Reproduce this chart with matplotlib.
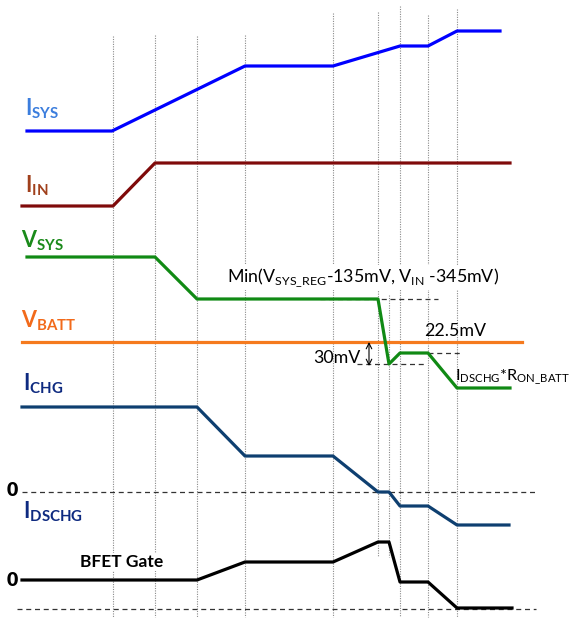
import matplotlib
matplotlib.use("Agg")
import matplotlib.pyplot as plt

plt.rcParams["font.family"] = ["Lato", "DejaVu Sans"]
plt.rcParams["mathtext.fontset"] = "custom"
plt.rcParams["mathtext.rm"] = "Lato"
plt.rcParams["mathtext.bf"] = "Lato:bold"

# Waveform corner points (x = time position, y = level, screen units)
isys_x = [27, 112, 245, 333, 400, 428, 457, 500]
isys_y = [131, 131, 66, 66, 46, 46, 31, 31]

iin_x = [22, 113, 155, 510]
iin_y = [206, 206, 163, 163]

vsys_x = [27, 155, 197, 378, 389, 400, 428, 457, 510]
vsys_y = [257, 257, 299, 299, 364, 353, 353, 388, 388]

vbatt_x = [22, 522]
vbatt_y = [342, 342]

ichg_x = [22, 197, 245, 333, 378, 389, 400, 428, 457, 509]
ichg_y = [407, 407, 456, 456, 492, 492, 506, 506, 525, 525]

bfet_x = [22, 197, 245, 333, 378, 389, 400, 428, 457, 512]
bfet_y = [580, 580, 562, 562, 542, 542, 582, 582, 608, 608]

# Event markers: x, top, bottom
events = [(113, 36, 617), (155, 35, 617), (197, 36, 617), (245, 35, 617),
          (333, 13, 617), (378, 12, 557), (389, 295, 557), (400, 6, 617),
          (428, 15, 617), (457, 9, 617)]

# Reference levels: y, x start, x end
ref_levels = [(492, 22, 536), (609, 17, 536), (299, 320, 438),
              (353, 428, 462), (364, 357, 425)]

fig = plt.figure(figsize=(5.73, 6.19), dpi=100)
ax = fig.add_axes([0, 0, 1, 1])
ax.set_xlim(0, 573)
ax.set_ylim(619, 0)
ax.axis("off")

for x, top, bot in events:
    ax.plot([x, x], [top, bot], color="#8a8a8a", lw=0.8, ls=(0, (1, 1.2)), zorder=1)

for y, x0, x1 in ref_levels:
    ax.plot([x0, x1], [y, y], color="#333333", lw=0.9, ls=(0, (4, 3)), zorder=1)

lw = 2.3
ax.plot(isys_x, isys_y, color="#0000ff", lw=lw, zorder=3)
ax.plot(iin_x, iin_y, color="#7f0a0a", lw=lw, zorder=3)
ax.plot(vsys_x, vsys_y, color="#108a14", lw=lw, zorder=3)
ax.plot(vbatt_x, vbatt_y, color="#f57a1e", lw=lw, zorder=2)
ax.plot(ichg_x, ichg_y, color="#0e3f70", lw=lw, zorder=3)
ax.plot(bfet_x, bfet_y, color="#000000", lw=lw, zorder=3)

# Signal names
lab = dict(fontsize=15.5, fontweight="bold", va="baseline", ha="left", zorder=4)
ax.text(25, 115, r"I$_{\mathbf{SYS}}$", color="#3b7ddd", **lab)
ax.text(25, 192, r"I$_{\mathbf{IN}}$", color="#a0401c", **lab)
ax.text(21, 247, r"V$_{\mathbf{SYS}}$", color="#1a8a1a", **lab)
ax.text(21, 327, r"V$_{\mathbf{BATT}}$", color="#f26a1b", **lab)
ax.text(23, 390, r"I$_{\mathbf{CHG}}$", color="#0e2a80", **lab)
ax.text(23, 518, r"I$_{\mathbf{DSCHG}}$", color="#0e2a80", **lab)

ax.text(12, 490, "0", fontsize=14, fontweight="heavy", ha="center", va="center")
ax.text(12, 580, "0", fontsize=14, fontweight="heavy", ha="center", va="center")
ax.text(80, 567, "BFET Gate", fontsize=12.5, fontweight="bold", ha="left", va="baseline",
        zorder=4, bbox=dict(facecolor="white", edgecolor="none", pad=1))

# Level annotations
ann = dict(fontsize=12.8, va="baseline", ha="left", zorder=4)
ax.text(227, 282, r"Min(V$_{\mathrm{SYS\_REG}}$-135mV, V$_{\mathrm{IN}}$ -345mV)",
        bbox=dict(facecolor="white", edgecolor="none", pad=1), **ann)
ax.text(424, 336, "22.5mV", **ann)
ax.text(313, 363, "30mV", **ann)
ax.text(455, 380, r"I$_{\mathrm{DSCHG}}$*R$_{\mathrm{ON\_BATT}}$",
        **dict(ann, fontsize=11.7))

ax.annotate("", xy=(369, 342), xytext=(369, 366),
            arrowprops=dict(arrowstyle="<->", lw=0.8, color="black",
                            shrinkA=0, shrinkB=0))

fig.savefig("out.png", dpi=100)
